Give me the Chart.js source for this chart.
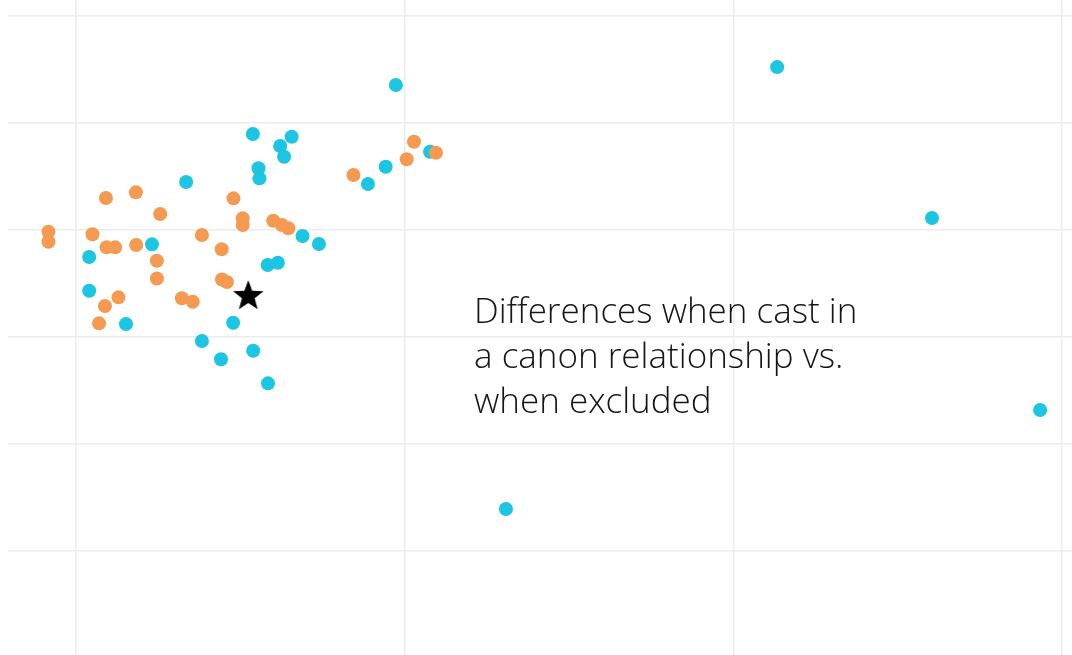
<!DOCTYPE html>
<html>
<head>
<meta charset="utf-8">
<script src="https://cdn.jsdelivr.net/npm/chart.js@4.4.1/dist/chart.umd.min.js"></script>
<style>
  html, body { margin: 0; padding: 0; background: #ffffff; }
  #wrap { position: relative; width: 1072px; height: 655px; }
</style>
</head>
<body>
<div id="wrap"><canvas id="c" width="1072" height="655"></canvas></div>
<script>
// Tick (gridline) positions in data units
const xTicks = [0, 1, 2, 3];
const yTicks = [0, 1, 2, 3, 4, 5];

// Cyan series
const cyanX = [0.040, 0.040, 0.152, 0.231, 0.335, 0.383, 0.441, 0.478, 0.539, 0.584,
               0.538, 0.656, 0.621, 0.633, 0.555, 0.558, 0.583, 0.614, 0.689, 0.739,
               0.973, 0.942, 0.888, 1.077, 1.308, 2.133, 2.604, 2.933];
const cyanY = [2.748, 2.433, 2.121, 2.866, 3.449, 1.963, 1.792, 2.134, 1.872, 1.567,
               3.897, 3.872, 3.785, 3.685, 3.577, 3.483, 2.673, 2.694, 2.944, 2.869,
               4.355, 3.592, 3.430, 3.732, 0.393, 4.523, 3.112, 1.318];

// Orange series
const orangeX = [-0.084, -0.084, 0.050, 0.091, 0.182, 0.256, 0.093, 0.119, 0.183, 0.246,
                 0.246, 0.129, 0.088, 0.070, 0.322, 0.355, 0.383, 0.443, 0.479, 0.507,
                 0.507, 0.444, 0.459, 0.600, 0.626, 0.646, 0.844, 1.006, 1.028, 1.095];
const orangeY = [2.984, 2.891, 2.960, 3.299, 3.352, 3.150, 2.838, 2.838, 2.860, 2.713,
                 2.547, 2.371, 2.290, 2.128, 2.362, 2.330, 2.953, 2.820, 3.296, 3.109,
                 3.047, 2.537, 2.514, 3.087, 3.047, 3.016, 3.514, 3.661, 3.825, 3.722];

// Star marker
const starX = [0.524];
const starY = [2.393];

const annotationLines = ["Differences when cast in", "a canon relationship vs.", "when excluded"];

const zip = (xs, ys) => xs.map((x, i) => ({ x: x, y: ys[i] }));

// Filled five-pointed star image for the marker
function makeStar(size, color) {
  const cv = document.createElement('canvas');
  cv.width = size; cv.height = size;
  const g = cv.getContext('2d');
  const cx = size / 2, cy = size / 2 + size * 0.04;
  const R = size / 2, r = R * 0.42;
  g.beginPath();
  for (let i = 0; i < 10; i++) {
    const a = -Math.PI / 2 + i * Math.PI / 5;
    const rad = i % 2 === 0 ? R : r;
    const px = cx + rad * Math.cos(a), py = cy + rad * Math.sin(a);
    if (i === 0) g.moveTo(px, py); else g.lineTo(px, py);
  }
  g.closePath();
  g.fillStyle = color;
  g.fill();
  return cv;
}

const annotationPlugin = {
  id: 'annotation',
  afterDatasetsDraw(chart) {
    const ctx = chart.ctx;
    ctx.save();
    ctx.fillStyle = '#151515';
    ctx.font = '300 35px "Open Sans", Lato, sans-serif';
    ctx.textBaseline = 'alphabetic';
    ctx.textAlign = 'left';
    const x0 = 474, y0 = 323, lh = 45;
    annotationLines.forEach((t, i) => ctx.fillText(t, x0, y0 + i * lh));
    ctx.restore();
  }
};

const gridColor = '#e9ecf1';

new Chart(document.getElementById('c'), {
  type: 'scatter',
  data: {
    datasets: [
      { label: 'star', data: zip(starX, starY), pointStyle: makeStar(32, '#000000'),
        order: 0 },
      { label: 'orange', data: zip(orangeX, orangeY), backgroundColor: '#f59a50',
        borderWidth: 0, pointRadius: 7, order: 1 },
      { label: 'cyan', data: zip(cyanX, cyanY), backgroundColor: '#1cc5e2',
        borderWidth: 0, pointRadius: 7, order: 2 }
    ]
  },
  options: {
    responsive: false,
    animation: false,
    events: [],
    layout: { autoPadding: false, padding: { left: 8, right: 0, top: 0, bottom: 0 } },
    plugins: { legend: { display: false }, tooltip: { enabled: false } },
    scales: {
      x: {
        type: 'linear',
        min: -0.207, max: 3.030,
        ticks: { display: false },
        afterBuildTicks: (s) => { s.ticks = xTicks.map(v => ({ value: v })); },
        grid: { color: gridColor, lineWidth: 1.5, drawTicks: false },
        border: { display: false }
      },
      y: {
        type: 'linear',
        min: -0.972, max: 5.150,
        ticks: { display: false },
        afterBuildTicks: (s) => { s.ticks = yTicks.map(v => ({ value: v })); },
        grid: { color: gridColor, lineWidth: 1.5, drawTicks: false },
        border: { display: false }
      }
    }
  },
  plugins: [annotationPlugin]
});
</script>
</body>
</html>
